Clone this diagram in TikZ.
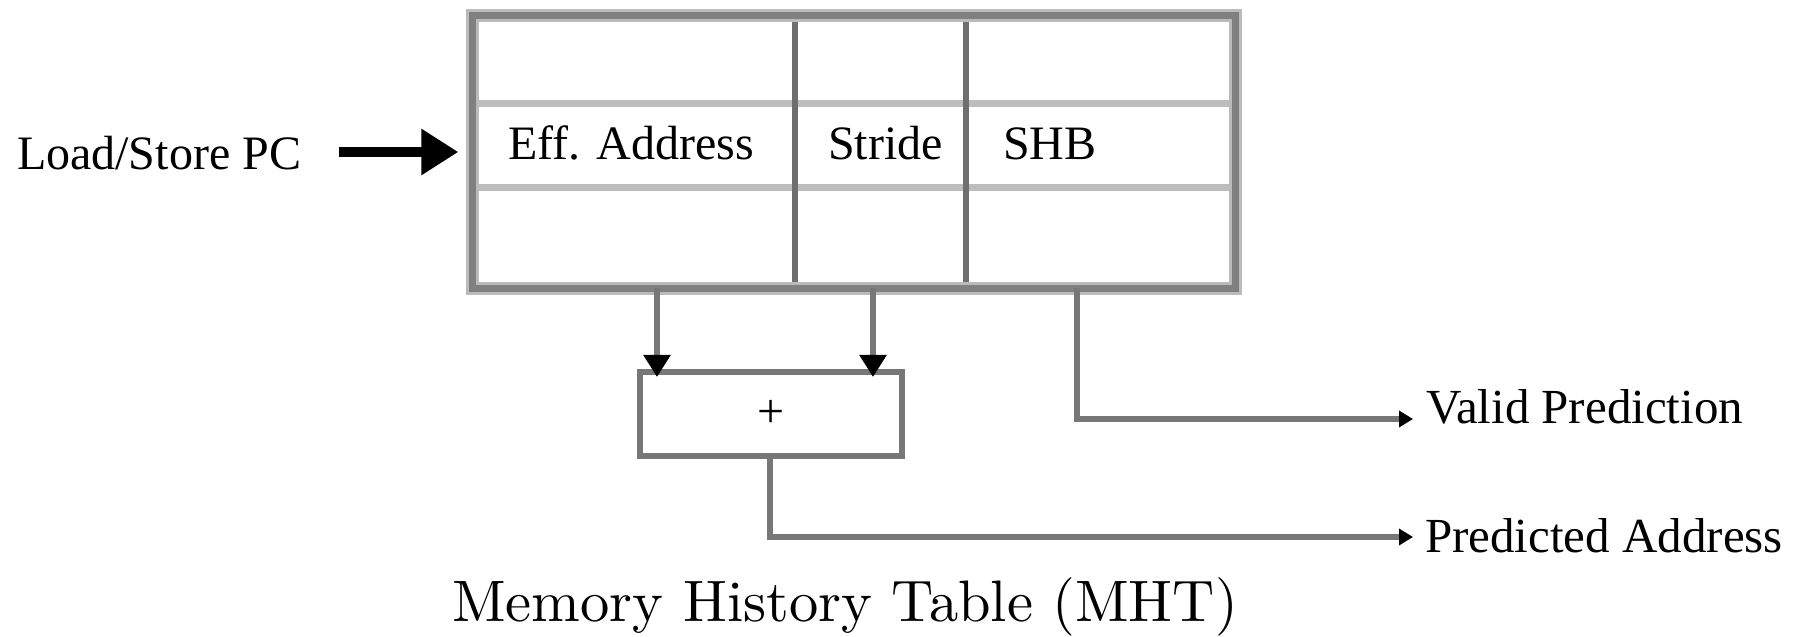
\documentclass[tikz,border=0pt]{standalone}
\usepackage{fontspec}
\newfontfamily\timesf{Liberation Serif}
\newfontfamily\lmten{lmroman10-regular}[Extension=.otf]
\usetikzlibrary{arrows.meta}
\definecolor{bordark}{HTML}{808080}
\definecolor{borlight}{HTML}{BBBBBB}
\definecolor{rowgray}{HTML}{BDBDBD}
\definecolor{colgray}{HTML}{6E6E6E}
\definecolor{conngray}{HTML}{777777}
\begin{document}
\begin{tikzpicture}[x=0.4pt,y=-0.4pt,
  tbl/.style={draw=bordark, line width=2.8pt, preaction={draw=borlight, line width=5.2pt},
    minimum width=304.8pt, minimum height=109pt, inner sep=0pt, outer sep=0pt},
  adder/.style={draw=conngray, line width=2.3pt, minimum width=104.8pt, minimum height=33.6pt,
    inner sep=0pt, outer sep=0pt, font=\timesf\fontsize{19.2pt}{22pt}\selectfont},
  lbl/.style={inner sep=0pt, outer sep=0pt, anchor=base west, font=\timesf\fontsize{19.2pt}{22pt}\selectfont},
  outlbl/.style={lbl, font=\timesf\fontsize{19.6pt}{22pt}\selectfont},
  rowline/.style={draw=rowgray, line width=2.8pt},
  colline/.style={draw=colgray, line width=2.2pt},
  conn/.style={draw=conngray, line width=2.3pt},
  downtip/.style={-{Triangle[width=10.4pt,length=8.8pt,color=black]}},
  righttip/.style={-{Triangle[width=6.4pt,length=5.6pt,color=black]}},
  bigarrow/.style={draw=black, line width=4pt, -{Triangle[width=17.6pt,length=14.8pt,color=black]}}
]
\useasboundingbox (0,0) rectangle (1799,637);

% helper coordinates
\coordinate (r1) at (0,103.3);
\coordinate (r2) at (0,187.3);
\coordinate (k1) at (795,0);
\coordinate (k2) at (966,0);
\coordinate (c1) at (657,0);
\coordinate (c2) at (873,0);
\coordinate (c3) at (1077,0);
\coordinate (c4) at (770,0);
\coordinate (dtip) at (0,377);
\coordinate (vptip) at (1413,419);
\coordinate (patip) at (1413,537);

% table (rows and columns first, border on top)
\path (854.2,152) node[minimum width=305pt, minimum height=109pt, inner sep=0pt, outer sep=0pt] (area) {};
\draw[rowline] (area.west |- r1) -- (area.east |- r1);
\draw[rowline] (area.west |- r2) -- (area.east |- r2);
\draw[colline] (area.north -| k1) -- (area.south -| k1);
\draw[colline] (area.north -| k2) -- (area.south -| k2);
\node[tbl, minimum width=305pt] (mht) at (854.2,152) {};

% labels in the table
\node[lbl] (ea) at (508,160) {Eff. Address};
\node[lbl] (st) at (828,160) {Stride};
\node[lbl] (shb) at (1003,160) {SHB};

% input
\node[lbl] (lsp) at (17,170) {Load/Store PC};
\draw[bigarrow] (lsp.east |- mht.west) ++(38,0) -- ([xshift=-5.84pt]mht.west);

% adder
\node[adder] (add) at (771,414) {+};
\draw[conn, downtip] (mht.south -| c1) -- (c1 |- dtip);
\draw[conn, downtip] (mht.south -| c2) -- (c2 |- dtip);

% outputs
\node[outlbl] (vp) at (1426,424) {Valid Prediction};
\node[outlbl] (pa) at (1425,553) {Predicted Address};
\draw[conn, righttip] (mht.south -| c3) |- (vptip);
\draw[conn, righttip] (add.south -| c4) |- (patip);

% title
\node[inner sep=0pt, anchor=base, font=\lmten\fontsize{23.4pt}{28pt}\selectfont] (title) at (845,622) {Memory History Table (MHT)};
\end{tikzpicture}
\end{document}
